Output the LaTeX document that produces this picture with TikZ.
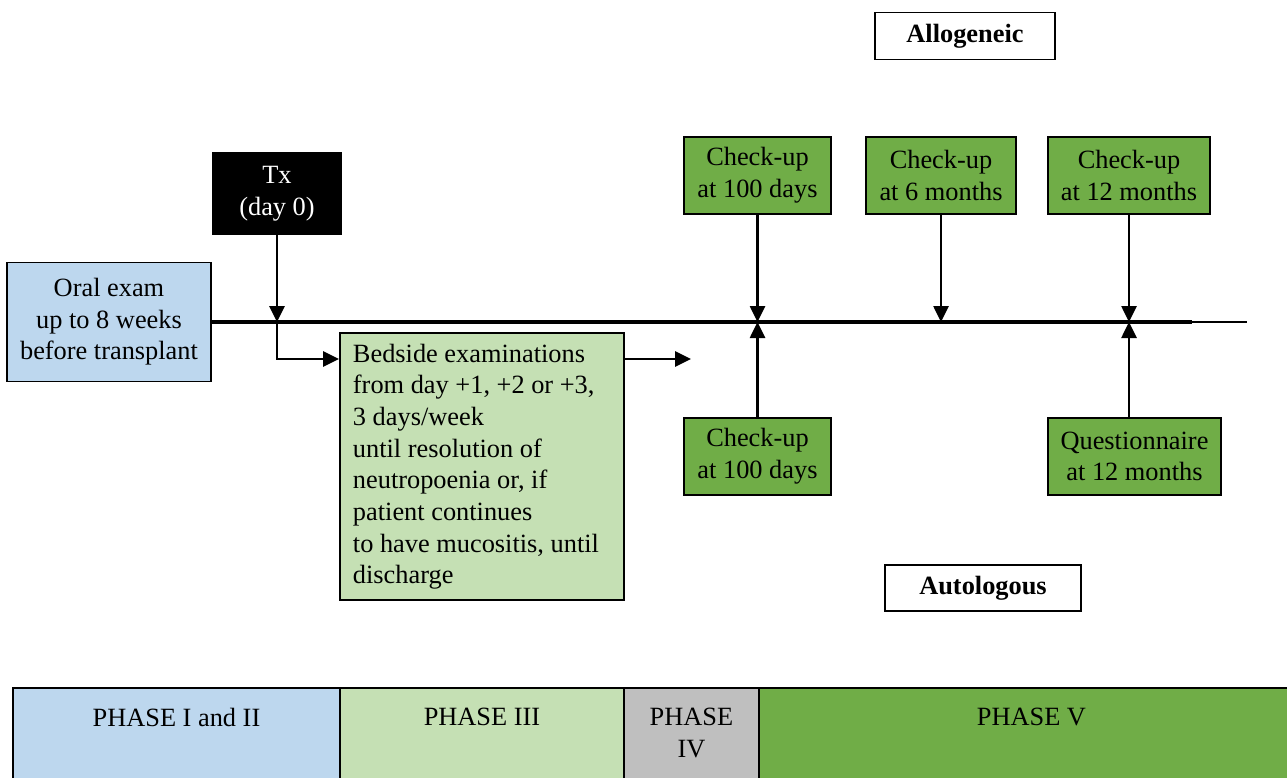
\documentclass[tikz,border=0pt]{standalone}
\usepackage{fontspec}
\setmainfont{Liberation Serif}
\usepackage{xcolor}
\usepackage{tikz}
\usetikzlibrary{arrows.meta, positioning, calc}

\definecolor{oralblue}{HTML}{BDD7EE}
\definecolor{bedgreen}{HTML}{C5E0B4}
\definecolor{phasegray}{HTML}{BFBFBF}
\definecolor{checkgreen}{HTML}{70AD47}

\begin{document}
\begin{tikzpicture}[
    font=\fontsize{15}{18}\selectfont,
    box/.style={rectangle, draw, line width=1.1pt, align=center, inner sep=0pt, minimum height=1.54cm},
    check/.style={box, fill=checkgreen},
    tag/.style={rectangle, draw, line width=1.1pt, fill=white, inner sep=0pt, minimum height=0.94cm, font=\fontsize{15}{18}\selectfont\bfseries},
    phase/.style={rectangle, draw, line width=1.1pt, anchor=north west, minimum height=2.4cm, inner sep=0pt},
    phasetext/.style={anchor=north, align=center, inner sep=0pt},
    arrow/.style={-{Triangle[length=0.32cm, width=0.30cm]}, line width=1.5pt},
    timeline/.style={line width=1.8pt}
]
\useasboundingbox (0,0) rectangle (25.74,-15.56);
\clip (0,0) rectangle (25.74,-15.56);

% Before transplant and day 0
\node[box, fill=oralblue, minimum width=4.08cm, minimum height=2.38cm] (oral) at (2.18,-6.44) {Oral exam\\up to 8 weeks\\before transplant};
\node[box, fill=black, text=white, minimum width=2.56cm, minimum height=1.62cm] (tx) at (5.54,-3.87) {Tx\\(day 0)};

% Inpatient period
\node[box, anchor=north west, fill=bedgreen, align=flush left, text width=5.16cm, inner xsep=0.26cm, inner ysep=0.22cm, minimum height=5.30cm] (bedside) at (6.78,-6.64) {\spaceskip=0pt\xspaceskip=0pt\relax Bedside examinations\\from day +1, +2 or +3,\\3 days/week\\until resolution of\\neutropoenia or, if\\patient continues\\to have mucositis, until\\discharge};

% Allogeneic follow-up (above the line)
\node[tag, minimum width=3.6cm] (allo) at (19.30,-0.72) {Allogeneic};
\node[check, minimum width=2.94cm] (chk100) at (15.15,-3.51) {Check-up\\at 100 days};
\node[check, minimum width=3.0cm] (chk6) at (18.82,-3.51) {Check-up\\at 6 months};
\node[check, minimum width=3.24cm] (chk12) at (22.58,-3.51) {Check-up\\at 12 months};

% Autologous follow-up (below the line)
\node[check, minimum width=2.94cm] (auto100) at (15.15,-9.13) {Check-up\\at 100 days};
\node[check, minimum width=3.46cm] (quest) at (22.69,-9.13) {Questionnaire\\at 12 months};
\node[tag, minimum width=3.92cm, minimum height=0.92cm] (auto) at (19.66,-11.76) {Autologous};

% Time line
\coordinate (tend) at (23.84,-6.44);
\coordinate (tfar) at (24.94,-6.44);
\coordinate (t0) at (tx.south |- oral.east);
\draw[timeline] (oral.east) -- (tend);
\draw[line width=0.8pt] (tend) -- (tfar);

% Arrows into and out of the bedside period
\coordinate (bedin) at ([yshift=-0.54cm]bedside.north west);
\coordinate (bedout) at (13.82,-7.18);
\draw[arrow] (tx.south) -- (t0);
\draw[arrow] (t0) |- (bedin);
\draw[arrow] (bedin -| bedside.east) -- (bedout);

% Arrows from the check-ups to the line
\draw[arrow] (chk100.south) -- (chk100.south |- oral.east);
\draw[arrow] (chk6.south) -- (chk6.south |- oral.east);
\draw[arrow] (chk12.south) -- (chk12.south |- oral.east);
\draw[arrow] (auto100.north) -- (auto100.north |- oral.east);
\draw[arrow] (quest.north -| chk12.south) -- (chk12.south |- oral.east);

% Phase bar
\node[phase, fill=oralblue, minimum width=6.54cm] (p12) at (0.24,-13.74) {};
\node[phase, fill=bedgreen, minimum width=5.68cm] (p3) at (6.78,-13.74) {};
\node[phase, fill=phasegray, minimum width=2.70cm] (p4) at (12.46,-13.74) {};
\node[phase, fill=checkgreen, minimum width=10.9cm] (p5) at (15.16,-13.74) {};
\node[phasetext, below=0.42cm of p12.north] (p12t) {PHASE I and II};
\node[phasetext, below=0.42cm of p3.north] (p3t) {PHASE III};
\node[phasetext, below=0.42cm of p4.north] (p4t) {PHASE\\IV};
\node[phasetext, below=0.42cm of p5.north] (p5t) {PHASE V};
\end{tikzpicture}
\end{document}
